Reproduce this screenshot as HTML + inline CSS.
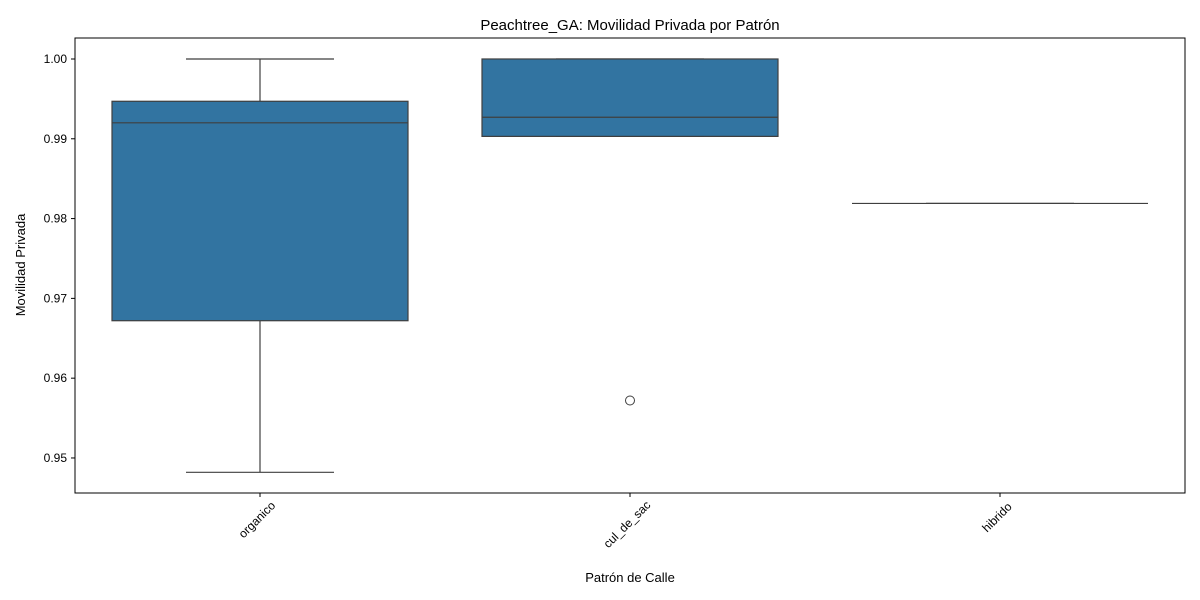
<!DOCTYPE html>
<html><head><meta charset="utf-8">
<style>
html,body{margin:0;padding:0;background:#fff;}
svg{display:block;font-family:"Liberation Sans","DejaVu Sans",sans-serif;}
</style></head>
<body>
<svg id="chart" width="1200" height="600" viewBox="0 0 1200 600">
<text x="630" y="30" text-anchor="middle" font-size="15" fill="#000">Peachtree_GA: Movilidad Privada por Patrón</text>
<g id="plot"></g>
<rect x="75" y="38" width="1110" height="455" fill="none" stroke="#000" stroke-width="1"/>
<text x="630" y="582" text-anchor="middle" font-size="13">Patrón de Calle</text>
<text transform="translate(25,265) rotate(-90)" text-anchor="middle" font-size="13">Movilidad Privada</text>
</svg>
<script>
const categories = ["organico","cul_de_sac","hibrido"];
const whiskerLow = [0.9482, 0.9903, 0.9819];
const q1 = [0.9672, 0.9903, 0.9819];
const median = [0.9920, 0.9927, 0.9819];
const q3 = [0.9947, 1.0000, 0.9819];
const whiskerHigh = [1.0000, 1.0000, 0.9819];
const outliers = [[], [0.9572], []];
const yTicks = [0.95, 0.96, 0.97, 0.98, 0.99, 1.00];
const yTickLabels = ["0.95","0.96","0.97","0.98","0.99","1.00"];

const NS = "http://www.w3.org/2000/svg";
const L = 75, R = 1185, T = 38, B = 493;
const yMin = 0.94561, yMax = 1.00263;
function yScale(v){ return B - (v - yMin) / (yMax - yMin) * (B - T); }
const band = (R - L) / categories.length;
function xScale(i){ return L + band * (i + 0.5); }
const boxW = band * 0.8;
const g = document.getElementById("plot");
function mk(tag, attrs){ const e = document.createElementNS(NS, tag); for (const k in attrs) e.setAttribute(k, attrs[k]); g.appendChild(e); return e; }
const col = "#3f3f3f";

yTicks.forEach((t, i) => {
  const y = yScale(t);
  const tk = mk("line", {x1: L-4, x2: L, y1: y, y2: y, stroke: "#000"});
  
  
  const lb = mk("text", {x: L-8, y: y+4, "text-anchor": "end", "font-size": "12"});
  lb.textContent = yTickLabels[i];
  
  
});

categories.forEach((c, i) => {
  const cx = xScale(i);
  const tk = mk("line", {x1: cx, x2: cx, y1: B, y2: B+4, stroke: "#000"});
  
  
  const halfLen = c.length * 3.3;
  const lb = mk("text", {transform: `translate(${cx-3},${B+8+halfLen*0.707}) rotate(-45)`, "text-anchor": "middle", y: 4, "font-size": "12"});
  lb.textContent = c;
  
  

  const capW = boxW / 2;
  const w1 = mk("line", {x1: cx, x2: cx, y1: yScale(whiskerLow[i]), y2: yScale(q1[i]), stroke: col, "stroke-width": 1.2});
  
  
  const w2 = mk("line", {x1: cx, x2: cx, y1: yScale(q3[i]), y2: yScale(whiskerHigh[i]), stroke: col, "stroke-width": 1.2});
  
  
  const c1 = mk("line", {x1: cx-capW/2, x2: cx+capW/2, y1: yScale(whiskerLow[i]), y2: yScale(whiskerLow[i]), stroke: col, "stroke-width": 1.2});
  
  
  const c2 = mk("line", {x1: cx-capW/2, x2: cx+capW/2, y1: yScale(whiskerHigh[i]), y2: yScale(whiskerHigh[i]), stroke: col, "stroke-width": 1.2});
  
  
  const yt = yScale(q3[i]), yb = yScale(q1[i]);
  const box = mk("rect", {x: cx-boxW/2, y: yt, width: boxW, height: Math.max(yb-yt, 0), fill: "#3274a1", stroke: col, "stroke-width": 1.2});
  
  
  const md = mk("line", {x1: cx-boxW/2, x2: cx+boxW/2, y1: yScale(median[i]), y2: yScale(median[i]), stroke: col, "stroke-width": 1.2});
  
  
  outliers[i].forEach(v => {
    const o = mk("circle", {cx: cx, cy: yScale(v), r: 4.5, fill: "none", stroke: col, "stroke-width": 1});
    
    
  });
});
</script>
</body></html>
